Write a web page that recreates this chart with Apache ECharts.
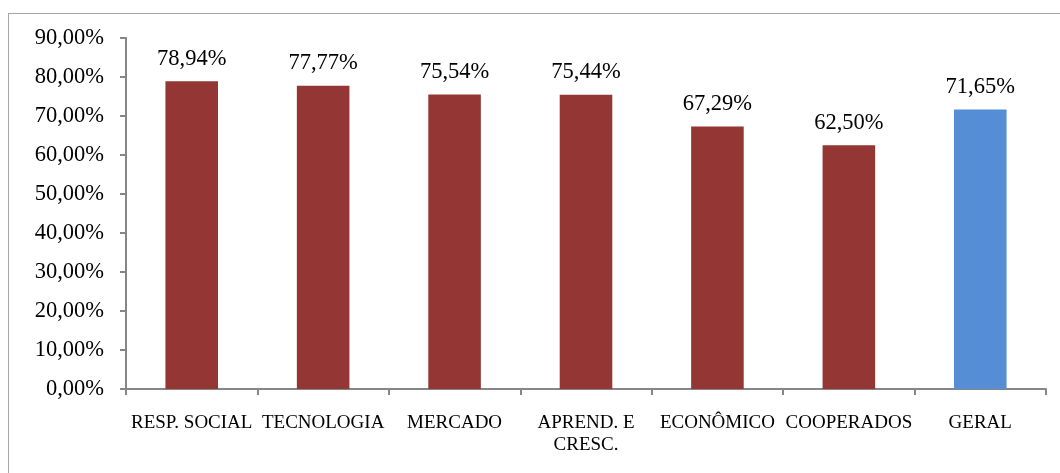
<!DOCTYPE html>
<html>
<head>
<meta charset="utf-8">
<script src="https://cdn.jsdelivr.net/npm/echarts@6/dist/echarts.min.js"></script>
<style>
  html, body { margin: 0; padding: 0; background: #fff; overflow: hidden; }
  #frame { position: absolute; left: 8px; top: 13px; width: 1070px; height: 480px; border: 1px solid #a6a6a6; }
  #main { position: absolute; left: 0; top: 0; width: 1060px; height: 473px; }
</style>
</head>
<body>
<div id="frame"></div>
<div id="main"></div>
<script>
  // dados do gráfico
  var categories = ['RESP. SOCIAL', 'TECNOLOGIA', 'MERCADO', 'APREND. E\nCRESC.', 'ECONÔMICO', 'COOPERADOS', 'GERAL'];
  var values = [78.94, 77.77, 75.54, 75.44, 67.29, 62.5, 71.65];
  var barColors = ['#943634', '#943634', '#943634', '#943634', '#943634', '#943634', '#558ed5'];

  function pct(v) {
    return v.toFixed(2).replace('.', ',') + '%';
  }

  var chart = echarts.init(document.getElementById('main'));
  chart.setOption({
    animation: false,
    textStyle: { fontFamily: '"Liberation Serif", "Times New Roman", serif' },
    grid: { left: 126, right: 14, top: 38, bottom: 84 },
    xAxis: {
      type: 'category',
      data: categories,
      axisLine: { lineStyle: { color: '#868686', width: 2 } },
      axisTick: { show: true, length: 6, lineStyle: { color: '#868686', width: 2 } },
      axisLabel: { color: '#000', fontSize: 19, margin: 23, interval: 0, lineHeight: 22,
        fontFamily: '"Liberation Serif", serif' }
    },
    yAxis: {
      type: 'value',
      min: 0,
      max: 90,
      interval: 10,
      splitLine: { show: false },
      axisLine: { show: true, lineStyle: { color: '#868686', width: 2 } },
      axisTick: { show: true, length: 6, lineStyle: { color: '#868686', width: 2 } },
      axisLabel: { color: '#000', fontSize: 22.5, margin: 22, formatter: pct,
        fontFamily: '"Liberation Serif", serif' }
    },
    series: [{
      type: 'bar',
      barWidth: '40%',
      data: values.map(function (v, i) {
        return { value: v, itemStyle: { color: barColors[i] } };
      }),
      label: {
        show: true,
        position: 'top',
        distance: 11,
        color: '#000',
        fontSize: 22.5,
        fontFamily: '"Liberation Serif", serif',
        formatter: function (p) { return pct(p.value); }
      }
    }]
  });
</script>
</body>
</html>
